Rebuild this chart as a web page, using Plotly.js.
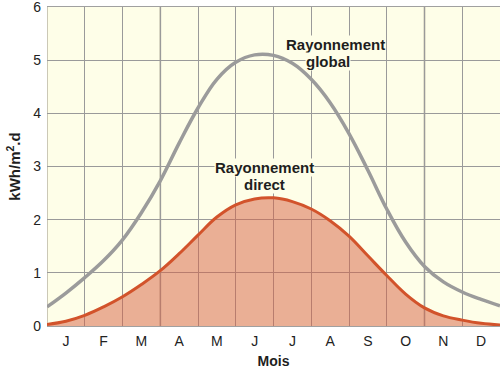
<!DOCTYPE html>
<html>
<head>
<meta charset="utf-8">
<script src="https://cdn.plot.ly/plotly-3.0.1.min.js"></script>
<style>html,body{margin:0;padding:0;background:#fff;}#chart{width:500px;height:369px;}</style>
</head>
<body>
<div id="chart"></div>
<script>
// Position in months (0 = start of January, 12 = end of December), half-month steps
const monthPos = [0, 0.5, 1, 1.5, 2, 2.5, 3, 3.5, 4, 4.5, 5, 5.5, 6, 6.5, 7, 7.5, 8, 8.5, 9, 9.5, 10, 10.5, 11, 11.5, 12];
const globalRad = [0.36, 0.62, 0.91, 1.23, 1.62, 2.13, 2.73, 3.44, 4.1, 4.64, 4.96, 5.1, 5.09, 4.94, 4.64, 4.2, 3.62, 2.93, 2.2, 1.58, 1.12, 0.83, 0.64, 0.5, 0.38];
const directRad = [0.03, 0.09, 0.2, 0.36, 0.55, 0.78, 1.04, 1.36, 1.71, 2.05, 2.28, 2.39, 2.41, 2.34, 2.2, 1.98, 1.69, 1.32, 0.95, 0.6, 0.34, 0.19, 0.11, 0.05, 0.02];
const monthLabels = ['J','F','M','A','M','J','J','A','S','O','N','D'];
const monthCenters = [0.5,1.5,2.5,3.5,4.5,5.5,6.5,7.5,8.5,9.5,10.5,11.5];
const seasonLines = [0, 3, 10];

const FONT = 'Liberation Sans, Arial, sans-serif';

const traces = [
  {
    x: monthPos, y: directRad, type: 'scatter', mode: 'lines',
    line: {shape: 'spline', smoothing: 1.1, color: '#d2532b', width: 3},
    fill: 'tozeroy', fillcolor: 'rgba(214,96,66,0.5)',
    hoverinfo: 'skip'
  },
  {
    x: monthPos, y: globalRad, type: 'scatter', mode: 'lines',
    line: {shape: 'spline', smoothing: 1.1, color: '#9b9b9b', width: 3.5},
    hoverinfo: 'skip'
  }
];

const shapes = seasonLines.map(v => ({
  type: 'line', xref: 'x', yref: 'paper', x0: v, x1: v, y0: 0, y1: 1,
  line: {color: '#cbc8b6', width: 2}, layer: 'below'
}));

const labelFont = {family: FONT, size: 15, color: '#1e1e1e'};
const annotations = [
  {x: 7.63, y: 5.30, text: '<b>Rayonnement</b>'},
  {x: 7.45, y: 4.98, text: '<b>global</b>'},
  {x: 5.76, y: 2.98, text: '<b>Rayonnement</b>'},
  {x: 5.77, y: 2.66, text: '<b>direct</b>'}
].map(a => Object.assign({
  xref: 'x', yref: 'y', showarrow: false, font: labelFont,
  bgcolor: '#fefee8', borderpad: 0
}, a));

const layout = {
  width: 500, height: 369,
  margin: {l: 47, r: 0, t: 7, b: 43, pad: 0},
  paper_bgcolor: '#ffffff',
  plot_bgcolor: '#fefee8',
  showlegend: false,
  font: {family: FONT, size: 14, color: '#222'},
  xaxis: {
    range: [0, 12], fixedrange: true,
    tickmode: 'array', tickvals: monthCenters, ticktext: monthLabels,
    showgrid: false, zeroline: false, ticks: '',
    showline: true, mirror: true, linecolor: '#a0a0a0', linewidth: 1,
    tickfont: {family: FONT, size: 14, color: '#222'},
    ticklabelstandoff: 2,
    minor: {tick0: 0, dtick: 1, showgrid: true, gridcolor: '#9a9a9a', gridwidth: 1, ticks: ''},
    title: {text: '<b>Mois</b>', font: {family: FONT, size: 14, color: '#1e1e1e'}, standoff: 9}
  },
  yaxis: {
    range: [0, 6], fixedrange: true, tickmode: 'array', tickvals: [0, 1, 2, 3, 4, 5, 6],
    showgrid: true, gridcolor: '#9a9a9a', gridwidth: 1,
    zeroline: false, ticks: '', showline: false,
    tickfont: {family: FONT, size: 14, color: '#222'},
    ticklabelstandoff: 5, ticklabeloverflow: 'allow',
    title: {text: '<b>kWh/m<sup>2</sup>.d</b>', font: {family: FONT, size: 15, color: '#1e1e1e'}, standoff: 8}
  },
  shapes: shapes,
  annotations: annotations
};

Plotly.newPlot('chart', traces, layout, {staticPlot: true, displayModeBar: false});
</script>
</body>
</html>
